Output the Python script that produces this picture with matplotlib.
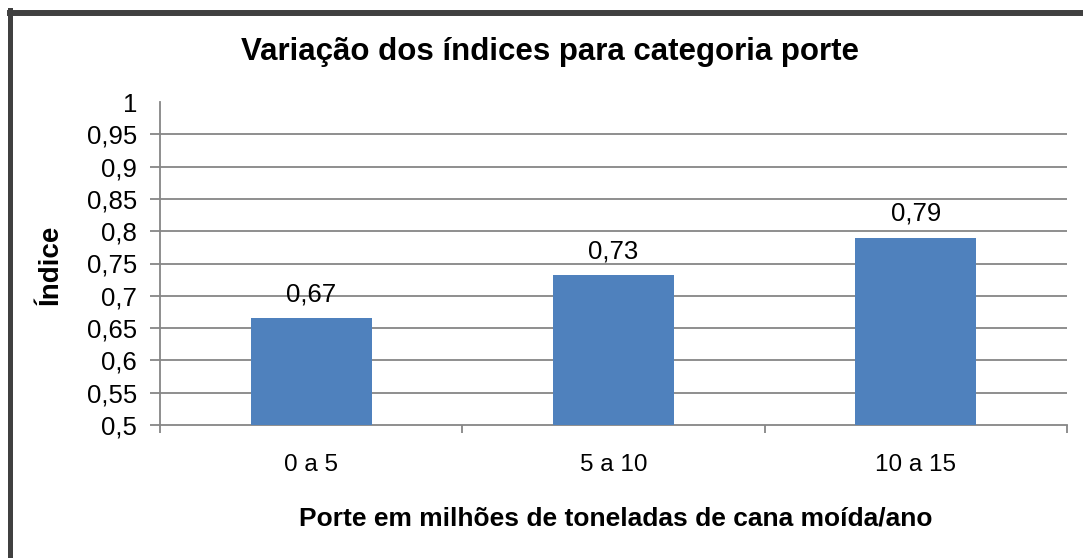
import numpy as np
import matplotlib.pyplot as plt
from matplotlib.lines import Line2D

categorias = ["0 a 5", "5 a 10", "10 a 15"]
indices = [0.665, 0.732, 0.790]
rotulos = ["0,67", "0,73", "0,79"]
yticks = [0.5, 0.55, 0.6, 0.65, 0.7, 0.75, 0.8, 0.85, 0.9, 0.95, 1.0]
ytick_labels = ["0,5", "0,55", "0,6", "0,65", "0,7", "0,75", "0,8", "0,85", "0,9", "0,95", "1"]

W, H = 1083, 558
plt.rcParams['font.family'] = ['Liberation Sans', 'DejaVu Sans']

fig = plt.figure(figsize=(W / 100, H / 100), dpi=100)
ax = fig.add_axes([160 / W, 1 - 425 / H, (1067 - 160) / W, (425 - 102) / H])

cinza = "#868686"
x = np.arange(len(categorias))
ax.bar(x, indices, width=0.4, color="#4F81BD", zorder=3)
for xi, v, r in zip(x, indices, rotulos):
    ax.annotate(r, (xi, v), xytext=(0, 12), textcoords="offset points",
                ha="center", va="baseline", fontsize=18.5)

ax.set_ylim(0.5, 1.0)
ax.set_xlim(-0.5, 2.5)
ax.set_yticks(yticks)
ax.set_yticklabels(ytick_labels, fontsize=18.5)
for y in yticks[1:-1]:
    ax.axhline(y, color=cinza, lw=1.3, zorder=1)

ax.set_xticks(x)
ax.set_xticklabels(categorias, fontsize=17.5)
ax.set_xticks([-0.5, 0.5, 1.5, 2.5], minor=True)
ax.tick_params(axis="x", which="major", length=0, pad=21)
ax.tick_params(axis="x", which="minor", length=6, width=1.3, color=cinza, direction="out")
ax.tick_params(axis="y", length=7, width=1.3, color=cinza, direction="out", pad=9.5)
ax.yaxis.get_major_ticks()[-1].tick1line.set_visible(False)

for s in ["top", "right"]:
    ax.spines[s].set_visible(False)
for s in ["left", "bottom"]:
    ax.spines[s].set_color(cinza)
    ax.spines[s].set_linewidth(1.3)

fig.text(550 / W, 1 - 52 / H, "Variação dos índices para categoria porte",
         ha="center", va="center", fontsize=22.5, fontweight="bold")
fig.text(616 / W, 1 - 519 / H, "Porte em milhões de toneladas de cana moída/ano",
         ha="center", va="center", fontsize=19, fontweight="bold")
fig.text(51 / W, 1 - 265 / H, "Índice", ha="center", va="center",
         rotation=90, fontsize=20, fontweight="bold")

# moldura
fig.add_artist(Line2D([9.5 / W, 1.0], [1 - 13 / H, 1 - 13 / H], color="#404040", lw=4.3,
                      transform=fig.transFigure))
fig.add_artist(Line2D([9.5 / W, 9.5 / W], [0.0, 1 - 10 / H], color="#404040", lw=3.6,
                      transform=fig.transFigure))

fig.savefig("out.png", dpi=100)
